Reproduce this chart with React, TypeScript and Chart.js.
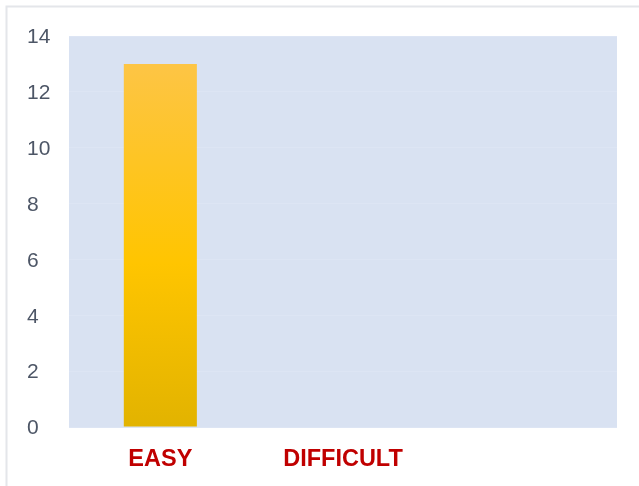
import React, { useEffect, useRef } from "react";
import { Chart, registerables } from "chart.js";

Chart.register(...registerables);

const categories: string[] = ["EASY", "DIFFICULT", ""];
const values: (number | null)[] = [13, null, null];
const yTicks: number[] = [0, 2, 4, 6, 8, 10, 12, 14];

const bgPlugin = {
  id: "bgPlugin",
  beforeDraw(chart: any) {
    const { ctx, chartArea } = chart;
    ctx.save();
    ctx.strokeStyle = "#e4e6ea";
    ctx.lineWidth = 2;
    ctx.strokeRect(6.5, 6.5, 1000, 1000);
    ctx.fillStyle = "#d9e2f2";
    ctx.fillRect(chartArea.left, chartArea.top, chartArea.right - chartArea.left, chartArea.bottom - chartArea.top);
    ctx.restore();
  },
};

export default function App() {
  const ref = useRef<HTMLCanvasElement>(null);
  useEffect(() => {
    if (!ref.current) return;
    const chart = new Chart(ref.current, {
      type: "bar",
      data: {
        labels: categories,
        datasets: [
          {
            data: values,
            backgroundColor: (c: any) => {
              const ch = c.chart;
              const area = ch.chartArea;
              if (!area) return "#ffc000";
              const ys = ch.scales.y;
              const top = ys.getPixelForValue(13);
              const bottom = ys.getPixelForValue(0);
              const g = ch.ctx.createLinearGradient(0, top, 0, bottom);
              g.addColorStop(0, "#fdc545");
              g.addColorStop(0.55, "#ffc500");
              g.addColorStop(1, "#e2b300");
              return g;
            },
            borderWidth: 0,
            barPercentage: 0.4,
            categoryPercentage: 1,
          },
        ],
      },
      options: {
        animation: false,
        responsive: false,
        layout: { padding: { left: 27, right: 22, top: 36, bottom: 15 } },
        plugins: { legend: { display: false }, tooltip: { enabled: false } },
        scales: {
          x: {
            grid: { display: false, drawTicks: false },
            border: { display: false },
            afterFit: (s: any) => {
              s.height = 44;
            },
            ticks: {
              color: "#c00000",
              font: { family: "'Liberation Sans', Arial, sans-serif", size: 23.5, weight: "bold" },
              padding: 18,
              maxRotation: 0,
            },
          },
          y: {
            min: 0,
            max: 14,
            afterBuildTicks: (s: any) => {
              s.ticks = yTicks.map((v) => ({ value: v }));
            },
            afterFit: (s: any) => {
              s.width = 42;
            },
            grid: { color: "#dde5f4", drawTicks: false },
            border: { display: false },
            ticks: {
              color: "#4d5666",
              crossAlign: "far",
              padding: 8,
              labelOffset: 1.5,
              font: { family: "'Liberation Sans', Arial, sans-serif", size: 21 },
            },
          },
        },
      },
      plugins: [bgPlugin],
    } as any);
    return () => chart.destroy();
  }, []);
  return (
    <canvas
      ref={ref}
      width={639}
      height={486}
      style={{ position: "fixed", left: 0, top: 0, width: 639, height: 486 }}
    />
  );
}
